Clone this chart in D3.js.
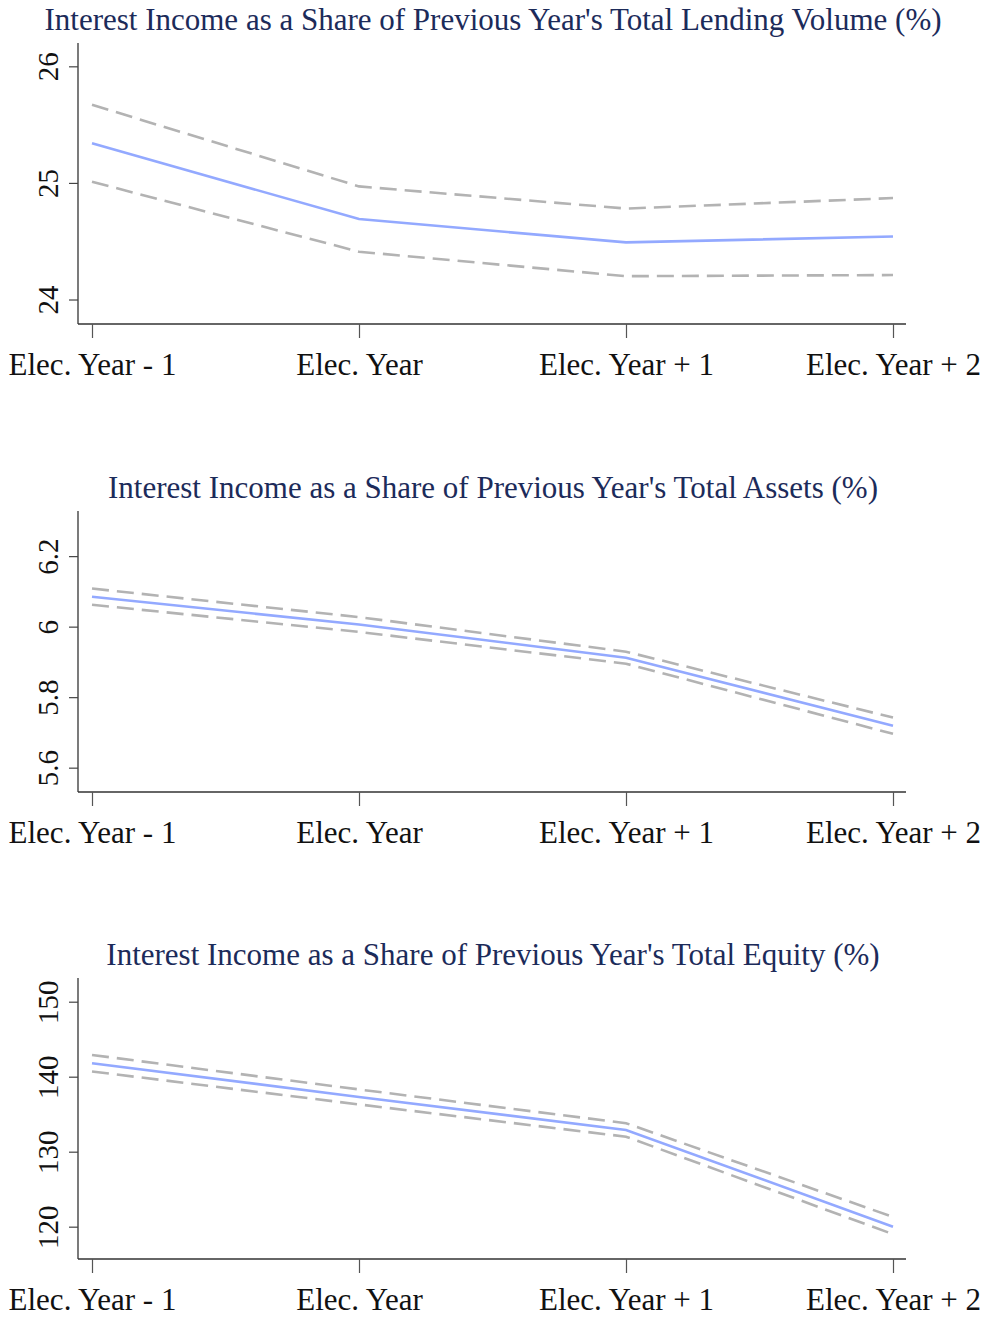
<!DOCTYPE html>
<html><head><meta charset="utf-8">
<script src="https://cdn.jsdelivr.net/npm/d3@7"></script>
<style>body{margin:0;background:#fff;} svg{display:block;}</style>
</head><body>
<svg id="c" width="984" height="1318"></svg>
<script>
const categories = ["Elec. Year - 1", "Elec. Year", "Elec. Year + 1", "Elec. Year + 2"];

const titles = [
  "Interest Income as a Share of Previous Year's Total Lending Volume (%)",
  "Interest Income as a Share of Previous Year's Total Assets (%)",
  "Interest Income as a Share of Previous Year's Total Equity (%)"
];

const lendingMean  = [25.34, 24.69, 24.49, 24.54];
const lendingUpper = [25.67, 24.97, 24.78, 24.87];
const lendingLower = [25.01, 24.41, 24.20, 24.21];

const assetsMean  = [6.085, 6.006, 5.912, 5.719];
const assetsUpper = [6.108, 6.027, 5.929, 5.742];
const assetsLower = [6.062, 5.985, 5.895, 5.696];

const equityMean  = [141.8, 137.3, 132.9, 120.0];
const equityUpper = [142.9, 138.3, 133.8, 121.3];
const equityLower = [140.7, 136.3, 132.0, 119.0];

const yTicks = [[24, 25, 26], [5.6, 5.8, 6, 6.2], [120, 130, 140, 150]];
const yDomains = [[23.79, 26.2], [5.531, 6.328], [115.69, 153.16]];

const panels = [
  {title: titles[0], mean: lendingMean, upper: lendingUpper, lower: lendingLower, ticks: yTicks[0], domain: yDomains[0]},
  {title: titles[1], mean: assetsMean, upper: assetsUpper, lower: assetsLower, ticks: yTicks[1], domain: yDomains[1]},
  {title: titles[2], mean: equityMean, upper: equityUpper, lower: equityLower, ticks: yTicks[2], domain: yDomains[2]}
];

const svg = d3.select("#c");
const font = "'Liberation Serif', 'Times New Roman', serif";
const left = 78, right = 906, plotH = 281;
const tops = [43, 511, 978];
const titleY = [30, 498, 965];

const x = d3.scalePoint().domain(categories).range([92, 893]);

panels.forEach((p, i) => {
  const top = tops[i], bottom = top + plotH;
  const g = svg.append("g");
  const y = d3.scaleLinear().domain(p.domain).range([bottom, top]);

  g.append("text").attr("x", 493).attr("y", titleY[i])
    .attr("text-anchor", "middle").attr("font-family", font)
    .attr("font-size", 31).attr("fill", "#1c2b5a").text(p.title);

  // y axis
  const ya = g.append("g").attr("transform", `translate(${left},0)`)
    .call(d3.axisLeft(y).tickValues(p.ticks).tickSize(9).tickPadding(0).tickFormat(d3.format("")));
  ya.select(".domain").attr("d", `M0,${top}V${bottom}`).attr("stroke", "#333").attr("stroke-width", 1.3);
  ya.selectAll(".tick line").attr("stroke", "#444").attr("stroke-width", 1.2);
  ya.selectAll(".tick text")
    .attr("x", null).attr("dy", null).attr("y", null)
    .attr("transform", "translate(-20,0) rotate(-90)")
    .attr("text-anchor", "middle")
    .attr("font-family", font).attr("font-size", 29).attr("fill", "#111");

  // x axis
  const xa = g.append("g").attr("transform", `translate(0,${bottom})`)
    .call(d3.axisBottom(x).tickSize(14).tickPadding(0));
  xa.select(".domain").attr("d", `M${left},0H${right}`).attr("stroke", "#333").attr("stroke-width", 1.3);
  xa.selectAll(".tick line").attr("stroke", "#555").attr("stroke-width", 1.2);
  xa.selectAll(".tick text").attr("dy", null).attr("y", 51)
    .attr("font-family", font).attr("font-size", 31).attr("fill", "#111");

  const line = d3.line().x((d, j) => x(categories[j])).y(d => y(d));
  [p.upper, p.lower].forEach(arr => {
    g.append("path").datum(arr).attr("d", line).attr("fill", "none")
      .attr("stroke", "#b3b3b3").attr("stroke-width", 2.6)
      .attr("stroke-dasharray", "17,8");
  });
  g.append("path").datum(p.mean).attr("d", line).attr("fill", "none")
    .attr("stroke", "#93a9ff").attr("stroke-width", 2.6);
});
</script>
</body></html>
